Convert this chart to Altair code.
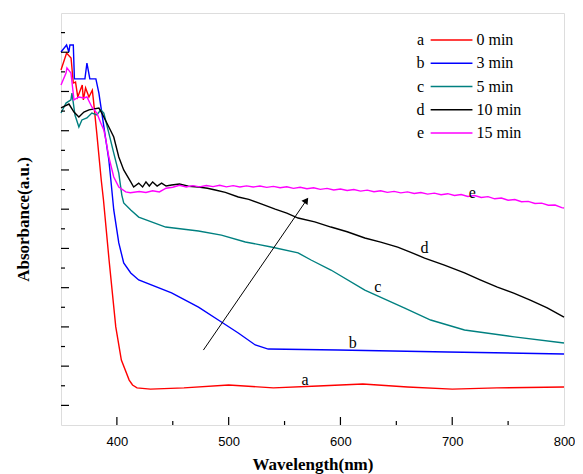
import altair as alt
import pandas as pd

# ---------------- data ----------------
keys = ["a", "b", "c", "d", "e"]
times = ["0 min", "3 min", "5 min", "10 min", "15 min"]
colors = ["#FF0000", "#0000FF", "#008080", "#000000", "#FF00FF"]

wl_a = [350, 355, 359, 361, 363, 365, 369, 370, 372, 375, 378, 379, 382, 386, 388, 393, 399, 404, 411, 414, 418,
        430, 460, 500, 540, 580, 620, 660, 700, 740, 800]
ab_a = [1.809, 1.896, 1.871, 1.743, 1.748, 1.672, 1.733, 1.657, 1.718, 1.672, 1.707, 1.657, 1.488, 1.249, 1.147,
        0.841, 0.500, 0.331, 0.229, 0.204, 0.189, 0.183, 0.189, 0.204, 0.189, 0.199, 0.209, 0.194, 0.183, 0.189, 0.194]

wl_b = [350, 355, 357, 358, 361, 362, 371.4, 373.2, 375.8, 381.2, 383.9, 390.1, 392.8, 394.6, 397.2, 401.7, 406.1,
        412.4, 419.5, 448.9, 473, 493.5, 508.6, 523.8, 535.4, 597.8, 695.8, 800]
ab_b = [1.901, 1.937, 1.901, 1.937, 1.937, 1.764, 1.764, 1.845, 1.764, 1.764, 1.692, 1.453, 1.351, 1.249, 1.096,
        0.928, 0.826, 0.775, 0.739, 0.673, 0.601, 0.525, 0.469, 0.408, 0.387, 0.382, 0.372, 0.362]

wl_c = [350, 354.5, 358.9, 359.8, 362.5, 366, 368.7, 373.2, 377.6, 382.1, 385.6, 388.3, 392.8, 397.2, 401.7, 404.4,
        406.1, 412.4, 419.5, 443.6, 473, 493.5, 514.9, 538.1, 562.1, 573.7, 591.5, 621.8, 657.5, 680.7, 711, 755.5, 800]
ab_c = [1.590, 1.641, 1.657, 1.692, 1.580, 1.519, 1.555, 1.565, 1.590, 1.580, 1.606, 1.590, 1.488, 1.386, 1.284,
        1.172, 1.132, 1.096, 1.060, 1.009, 0.989, 0.968, 0.933, 0.907, 0.877, 0.841, 0.790, 0.688, 0.596, 0.535,
        0.484, 0.449, 0.418]

wl_d = [350, 357.1, 361.6, 366, 370.5, 375, 383.9, 386.5, 392.8, 397.2, 401.7, 406.1, 412.4, 415, 419.5, 423, 426,
        429, 432, 436, 440, 444, 449, 456, 464, 473, 481, 488, 497, 508.6, 518, 529.1, 541.6, 552, 562.1, 577,
        591.5, 606, 621.8, 636, 651.2, 663, 675.3, 693, 711, 725, 740.4, 755, 769.8, 785, 800]
ab_d = [1.616, 1.636, 1.595, 1.570, 1.595, 1.606, 1.616, 1.590, 1.519, 1.468, 1.366, 1.300, 1.239, 1.213, 1.233,
        1.213, 1.239, 1.218, 1.239, 1.218, 1.233, 1.218, 1.223, 1.228, 1.217, 1.213, 1.207, 1.198, 1.186, 1.162,
        1.150, 1.127, 1.100, 1.080, 1.055, 1.035, 1.009, 0.985, 0.953, 0.932, 0.907, 0.880, 0.851, 0.815, 0.775,
        0.740, 0.703, 0.672, 0.637, 0.597, 0.550]

wl_e = [350, 354.5, 355.3, 358.9, 361.6, 366, 370.5, 373.2, 377.6, 382.1, 385.6, 388.3, 390.1, 392.8, 397.2, 401.7,
        407.9, 412, 420, 426, 432, 438, 444, 450, 456, 462, 468, 474, 480, 486, 492, 498, 504, 510, 516, 522, 528,
        534, 540, 546, 552, 558, 564, 570, 576, 582, 588, 594, 600, 606, 612, 618, 624, 630, 636, 642, 648, 654,
        660, 666, 672, 678, 684, 690, 696, 702, 708, 714, 720, 726, 732, 738, 744, 750, 756, 762, 768, 774, 780,
        786, 792, 798, 800]
ab_e = [1.733, 1.794, 1.820, 1.794, 1.657, 1.672, 1.667, 1.672, 1.621, 1.590, 1.539, 1.504, 1.453, 1.366, 1.264,
        1.213, 1.188, 1.184, 1.190, 1.185, 1.194, 1.188, 1.207, 1.212, 1.222, 1.213, 1.220, 1.214, 1.221, 1.215,
        1.222, 1.214, 1.220, 1.213, 1.219, 1.213, 1.218, 1.211, 1.216, 1.209, 1.214, 1.206, 1.212, 1.204, 1.209,
        1.201, 1.206, 1.198, 1.203, 1.195, 1.200, 1.192, 1.197, 1.189, 1.194, 1.186, 1.191, 1.183, 1.188, 1.180,
        1.185, 1.177, 1.182, 1.174, 1.179, 1.170, 1.175, 1.165, 1.170, 1.160, 1.164, 1.153, 1.157, 1.146, 1.149,
        1.138, 1.140, 1.129, 1.131, 1.120, 1.121, 1.108, 1.106]

# curve labels (letter, wavelength, absorbance)
lab_wl = [568.4, 611.1, 633.4, 675.3, 718.0]
lab_ab = [0.229, 0.418, 0.703, 0.902, 1.182]

# arrow: tail and head (wavelength, absorbance)
arrow_wl = [477.4, 569.5]
arrow_ab = [0.382, 1.145]

x_major = [400, 500, 600, 700]
x_minor = [450, 550, 650, 750]
y_major = [0.1, 0.3, 0.5, 0.7, 0.9, 1.1, 1.3, 1.5, 1.7, 1.9]
y_minor = [0.2, 0.4, 0.6, 0.8, 1.0, 1.2, 1.4, 1.6, 1.8, 2.0]

# ---------------- build tables ----------------
series = [(wl_a, ab_a), (wl_b, ab_b), (wl_c, ab_c), (wl_d, ab_d), (wl_e, ab_e)]
rows = []
for k, (wl, ab) in zip(keys, series):
    for i, (w, a) in enumerate(zip(wl, ab)):
        rows.append({"key": k, "wl": w, "ab": a, "i": i})
df = pd.DataFrame(rows)

W, H = 503, 412
xs = alt.Scale(domain=[350, 800], nice=False, zero=False)
ys = alt.Scale(domain=[0, 2.1], nice=False, zero=False)
cs = alt.Scale(domain=keys, range=colors)
SERIF = "Liberation Serif"

lines = alt.Chart(df).mark_line(strokeWidth=1.4).encode(
    x=alt.X("wl:Q", scale=xs, axis=alt.Axis(
        title="Wavelength(nm)", values=[400, 500, 600, 700, 800], ticks=False, domain=False, grid=False,
        labelFlush=False, labelOverlap=False,
        labelFont="Liberation Sans", labelFontSize=13, labelColor="black", labelPadding=10,
        titleFont=SERIF, titleFontSize=17, titleFontWeight="bold", titleColor="black", titlePadding=8)),
    y=alt.Y("ab:Q", scale=ys, axis=alt.Axis(
        title="Absorbance(a.u.)", labels=False, ticks=False, domain=False, grid=False,
        titleFont=SERIF, titleFontSize=17, titleFontWeight="bold", titleColor="black", titlePadding=29)),
    color=alt.Color("key:N", scale=cs, legend=None),
    order="i:Q",
)

# inward ticks
xtick_major = alt.Chart(pd.DataFrame({"v": x_major})).mark_rule(color="black", strokeWidth=1.2).encode(
    x=alt.X("v:Q", scale=xs), y=alt.value(H), y2=alt.value(H - 8))
xtick_minor = alt.Chart(pd.DataFrame({"v": x_minor})).mark_rule(color="black", strokeWidth=1.2).encode(
    x=alt.X("v:Q", scale=xs), y=alt.value(H), y2=alt.value(H - 4))
ytick_major = alt.Chart(pd.DataFrame({"v": y_major})).mark_rule(color="black", strokeWidth=1.2).encode(
    y=alt.Y("v:Q", scale=ys), x=alt.value(0), x2=alt.value(8))
ytick_minor = alt.Chart(pd.DataFrame({"v": y_minor})).mark_rule(color="black", strokeWidth=1.2).encode(
    y=alt.Y("v:Q", scale=ys), x=alt.value(0), x2=alt.value(4))

# curve labels
labels = alt.Chart(pd.DataFrame({"t": keys, "wl": lab_wl, "ab": lab_ab})).mark_text(
    font=SERIF, fontSize=16, color="black", baseline="middle", align="center").encode(
    x=alt.X("wl:Q", scale=xs), y=alt.Y("ab:Q", scale=ys), text="t:N")

# arrow
arrow_df = pd.DataFrame({"x1": [arrow_wl[0]], "y1": [arrow_ab[0]], "x2": [arrow_wl[1]], "y2": [arrow_ab[1]]})
arrow_line = alt.Chart(arrow_df).mark_rule(color="black", strokeWidth=1).encode(
    x=alt.X("x1:Q", scale=xs), y=alt.Y("y1:Q", scale=ys), x2="x2:Q", y2="y2:Q")
arrow_head = alt.Chart(arrow_df).mark_point(shape="triangle-up", filled=True, color="black", size=55,
                                            angle=35, opacity=1).encode(
    x=alt.X("x2:Q", scale=xs), y=alt.Y("y2:Q", scale=ys))

# in-plot legend
leg_top, leg_step = 1.962, 0.1185
leg = pd.DataFrame({
    "key": keys, "t": times,
    "y": [leg_top - i * leg_step for i in range(len(keys))],
    "xl": [671.7] * 5, "x1": [680.7] * 5, "x2": [718.1] * 5, "xt": [721.7] * 5,
})
leg_lines = alt.Chart(leg).mark_rule(strokeWidth=1.5).encode(
    x=alt.X("x1:Q", scale=xs), x2="x2:Q", y=alt.Y("y:Q", scale=ys),
    color=alt.Color("key:N", scale=cs, legend=None))
leg_keys = alt.Chart(leg).mark_text(font=SERIF, fontSize=16, color="black", align="center",
                                    baseline="middle").encode(
    x=alt.X("xl:Q", scale=xs), y=alt.Y("y:Q", scale=ys), text="key:N")
leg_text = alt.Chart(leg).mark_text(font=SERIF, fontSize=16, color="black", align="left",
                                    baseline="middle").encode(
    x=alt.X("xt:Q", scale=xs), y=alt.Y("y:Q", scale=ys), text="t:N")

chart = alt.layer(
    lines, xtick_major, xtick_minor, ytick_major, ytick_minor, labels, arrow_line, arrow_head,
    leg_lines, leg_keys, leg_text
).properties(
    width=W, height=H,
    autosize=alt.AutoSizeParams(type="none"),
    padding={"left": 53, "top": 5, "right": 11, "bottom": 49},
).configure_view(stroke="black", strokeWidth=1.6).configure(background="white")

chart.save("out.html", embed_options={"renderer": "svg", "actions": False})
